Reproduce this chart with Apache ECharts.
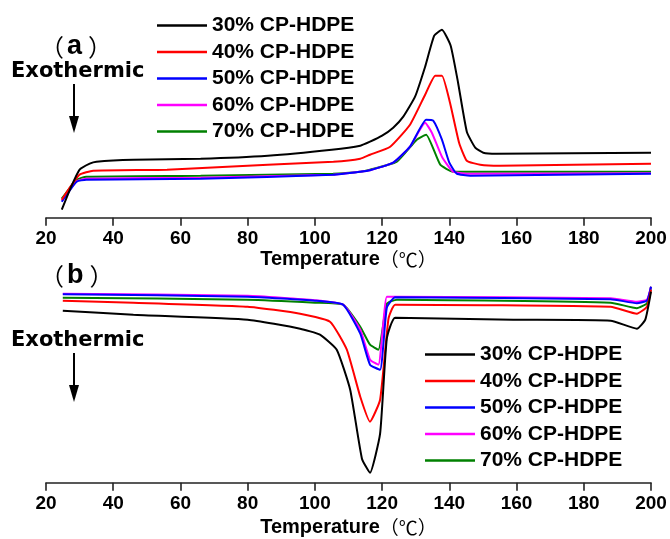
<!DOCTYPE html>
<html>
<head>
<meta charset="utf-8">
<script src="https://cdn.jsdelivr.net/npm/echarts@6/dist/echarts.min.js"></script>
<style>
  html, body { margin: 0; padding: 0; background: #fff; }
  #chart { width: 670px; height: 539px; }
</style>
</head>
<body>
<div id="chart"></div>
<script>
// sample names (legend order)
const names = ['30% CP-HDPE', '40% CP-HDPE', '50% CP-HDPE', '60% CP-HDPE', '70% CP-HDPE']
const colors = ['#000000', '#ff0000', '#0000ff', '#ff00ff', '#008000']

// (a) heating scans: [temperature, heat flow (a.u.)]
const a30 = [[24.7, 0.8], [27.5, 3.1], [30, 4.8], [33, 5.4], [35, 5.6], [46, 5.8], [66, 5.9], [86, 6.2], [105, 6.8], [113.5, 7.2],
  [116.4, 7.6], [120, 8.2], [123.3, 9.0], [126.3, 10.1], [129.8, 12.1], [132.8, 15.1], [135.5, 18.2], [137.8, 18.8],
  [140.4, 17.2], [142.6, 13.5], [145.2, 8.6], [147.7, 7.0], [150.1, 6.5], [154, 6.4], [200, 6.5]]
const a40 = [[24.7, 1.8], [27.7, 3.3], [30, 4.3], [34, 4.7], [56, 4.8], [86, 5.3], [105.5, 5.6], [113.5, 5.9], [116.4, 6.3],
  [122.4, 7.1], [128.3, 9.3], [132.8, 12.3], [135.8, 14.2], [137.8, 14.2], [140.2, 11.5], [142.9, 7.5], [145.2, 5.7],
  [149.2, 5.3], [155, 5.2], [200, 5.4]]
const a50 = [[24.7, 1.6], [29.1, 3.6], [32, 3.8], [66, 3.9], [105.4, 4.3], [113.5, 4.6], [116.4, 4.75], [123.3, 5.5],
  [128.3, 7.1], [133.1, 9.8], [135.2, 9.7], [137.8, 7.8], [140, 5.5], [142.2, 4.4], [146.2, 4.2], [200, 4.4]]
const a60 = [[24.7, 1.7], [29.1, 3.65], [32, 3.9], [66, 4.0], [105.4, 4.3], [113.5, 4.6], [116.4, 4.75], [123.3, 5.5],
  [128.3, 7.1], [132.8, 9.5], [134.8, 8.5], [137.8, 6.1], [141.1, 4.6], [146.2, 4.4], [200, 4.45]]
const a70 = [[24.7, 1.9], [29.1, 3.8], [32, 4.1], [66, 4.2], [105.4, 4.4], [113.5, 4.6], [116.4, 4.8], [124.4, 5.6],
  [130.3, 7.8], [133.1, 8.3], [137.3, 5.3], [141.1, 4.6], [200, 4.6]]

// (b) cooling scans: [temperature, heat flow (a.u.)]
const b30 = [[25, 17.2], [46, 16.8], [80, 16.3], [95.6, 15.4], [101.5, 14.8], [106.5, 13.3], [110.5, 9.3], [114, 2.4],
  [116.4, 1.0], [119.4, 4.9], [121.4, 14.4], [123.9, 16.5], [159, 16.3], [188, 16.2], [195.8, 15.4], [198.3, 16.3], [200, 19.1]]
const b40 = [[25, 18.2], [46, 18.0], [80, 17.6], [95.6, 16.9], [104.5, 16.1], [109.5, 13.3], [113.5, 8.6], [116.4, 6.1],
  [119.4, 8.3], [121.9, 16.4], [123.9, 17.8], [188, 17.6], [195.8, 16.9], [198.8, 17.6], [200, 19.3]]
const b50 = [[25, 18.85], [80, 18.6], [100, 18.2], [108.4, 17.8], [113.5, 14.9], [116.4, 11.8], [119.4, 11.3], [121.4, 17.5],
  [123.9, 18.55], [188, 18.35], [195.8, 17.95], [198.8, 18.2], [200, 19.6]]
const b60 = [[25, 18.9], [80, 18.7], [100, 18.25], [108.4, 17.8], [113.5, 15.3], [116.4, 12.3], [118.9, 11.8], [121.4, 18.6],
  [123.9, 18.6], [188, 18.45], [195.8, 18.1], [198.8, 18.3], [200, 19.6]]
const b70 = [[25, 18.5], [80, 18.3], [100, 18.0], [108.4, 17.8], [113.5, 15.6], [116.4, 13.8], [118.9, 13.3], [121.4, 17.9],
  [124.4, 18.3], [188, 18.0], [195.8, 17.45], [198.8, 17.95], [200, 19.6]]

const topData = [a30, a40, a50, a60, a70]
const bottomData = [b30, b40, b50, b60, b70]

const chart = echarts.init(document.getElementById('chart'), null, { renderer: 'canvas' })

const axisX = (gridIndex, nameGap) => ({
  type: 'value',
  gridIndex,
  min: 20,
  max: 200,
  interval: 20,
  name: '{b|Temperature}{c|（℃）}',
  nameLocation: 'middle',
  nameGap,
  nameTextStyle: {
    rich: {
      b: { fontFamily: 'Liberation Sans', fontWeight: 'bold', fontSize: 20, color: '#000' },
      c: { fontFamily: 'Noto Sans CJK SC', fontSize: 19, color: '#000' }
    }
  },
  splitLine: { show: false },
  axisLine: { show: true, onZero: false, lineStyle: { color: '#222', width: 1.6 } },
  axisTick: { show: true, inside: false, length: 8, lineStyle: { color: '#222', width: 1.6 } },
  axisLabel: { margin: 12, color: '#000', fontFamily: 'Liberation Sans', fontWeight: 'bold', fontSize: 19 }
})

const axisY = gridIndex => ({
  type: 'value', gridIndex, min: 0, max: 20, show: false
})

const makeSeries = (list, idx) => list.map((d, i) => ({
  name: names[i],
  type: 'line',
  xAxisIndex: idx,
  yAxisIndex: idx,
  data: d,
  symbol: 'none',
  smooth: 0.15,
  lineStyle: { color: colors[i], width: 2 },
  itemStyle: { color: colors[i] },
  z: 10 - i
}))

const legendOf = (left, top) => ({
  data: names,
  left,
  top,
  orient: 'vertical',
  selectedMode: false,
  icon: 'rect',
  itemWidth: 50,
  itemHeight: 2.5,
  itemGap: 5.5,
  textStyle: { fontFamily: 'Liberation Sans', fontWeight: 'bold', fontSize: 21, lineHeight: 21, color: '#000' }
})

const label = (txt, x, y) => ({
  type: 'text', left: x, top: y,
  style: {
    text: '{p|（}{l|' + txt + '}{p|）}',
    rich: {
      p: { fontFamily: 'Noto Sans CJK SC', fontSize: 24, fill: '#000' },
      l: { fontFamily: 'Liberation Sans', fontWeight: 'bold', fontSize: 27, fill: '#000', padding: [0, 6, 0, 3] }
    }
  }
})

const exo = (y, arrowTop, arrowBottom) => [
  { type: 'text', left: 11, top: y,
    style: { text: 'Exothermic', font: 'bold 21px "DejaVu Sans"', fill: '#000' } },
  { type: 'line', shape: { x1: 74, y1: arrowTop, x2: 74, y2: arrowBottom - 12 }, style: { stroke: '#000', lineWidth: 2 } },
  { type: 'polygon', shape: { points: [[69, arrowBottom - 17], [79, arrowBottom - 17], [74, arrowBottom]] }, style: { fill: '#000' } }
]

chart.setOption({
  animation: false,
  backgroundColor: '#fff',
  grid: [
    { left: 46, right: 19, top: 17.7, height: 200 },
    { left: 46, right: 19, top: 282.7, height: 200 }
  ],
  xAxis: [axisX(0, 30), axisX(1, 35)],
  yAxis: [axisY(0), axisY(1)],
  legend: [legendOf(152, 10), legendOf(420, 339)],
  graphic: [
    label('a', 40, 33),
    label('b', 40, 262),
    ...exo(61, 84, 133),
    ...exo(330, 353, 402)
  ],
  series: [...makeSeries(topData, 0), ...makeSeries(bottomData, 1)]
})
</script>
</body>
</html>
